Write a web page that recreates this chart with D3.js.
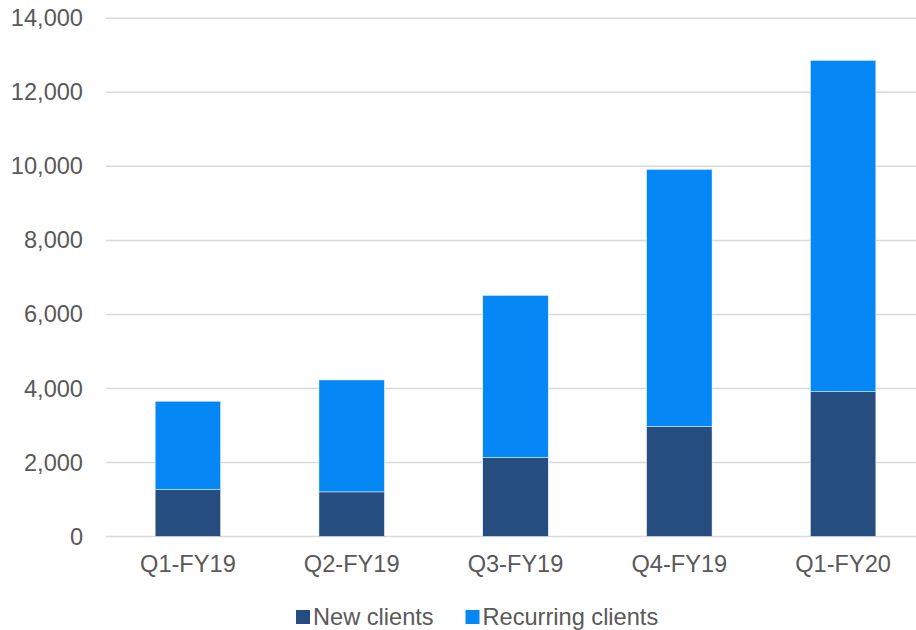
<!DOCTYPE html>
<html>
<head>
<meta charset="utf-8">
<script src="https://cdn.jsdelivr.net/npm/d3@7"></script>
<style>
  body { margin: 0; background: #fff; }
  svg text { font-family: "Liberation Sans", Arial, sans-serif; fill: #595959; }
</style>
</head>
<body>
<script>
// Chart data
const quarters = ["Q1-FY19", "Q2-FY19", "Q3-FY19", "Q4-FY19", "Q1-FY20"];
const newClients = [1265, 1205, 2130, 2965, 3912];
const recurringClients = [2390, 3025, 4385, 6955, 8953];
const seriesNames = ["New clients", "Recurring clients"];
const seriesColors = ["#254D80", "#0588F5"];
const yTicks = [0, 2000, 4000, 6000, 8000, 10000, 12000, 14000];

const w = 916, h = 630;
const margin = { left: 106, right: -9, top: 18.3, bottom: 93.5 };
const fontSize = "23.6px";

const rows = quarters.map((q, i) => ({ quarter: q, "New clients": newClients[i], "Recurring clients": recurringClients[i] }));
const stacked = d3.stack().keys(seriesNames)(rows);

const xScale = d3.scaleBand()
  .domain(quarters)
  .range([margin.left, w - margin.right])
  .paddingInner(0.6)
  .paddingOuter(0.3);

const yScale = d3.scaleLinear()
  .domain([0, 14000])
  .range([h - margin.bottom, margin.top]);

const svg = d3.select("body").append("svg")
  .attr("width", w)
  .attr("height", h);

// gridlines
svg.append("g")
  .selectAll("line")
  .data(yTicks)
  .enter()
  .append("line")
  .attr("x1", margin.left)
  .attr("x2", w)
  .attr("y1", d => yScale(d))
  .attr("y2", d => yScale(d))
  .attr("stroke", "#d9d9d9")
  .attr("stroke-width", 1.5);

// y axis labels
const yAxis = svg.append("g")
  .attr("transform", `translate(${margin.left - 23}, 0)`)
  .call(d3.axisLeft(yScale).tickValues(yTicks).tickFormat(d3.format(",")).tickSize(0).tickPadding(0));
yAxis.select(".domain").remove();
yAxis.selectAll("text").style("font-size", fontSize).attr("fill", "#595959");

// stacked bars
svg.append("g")
  .selectAll("g")
  .data(stacked)
  .enter()
  .append("g")
  .attr("fill", (d, i) => seriesColors[i])
  .selectAll("rect")
  .data(d => d)
  .enter()
  .append("rect")
  .attr("x", d => xScale(d.data.quarter))
  .attr("y", d => yScale(d[1]))
  .attr("width", xScale.bandwidth())
  .attr("height", d => yScale(d[0]) - yScale(d[1]))
  .attr("stroke", "#ffffff")
  .attr("stroke-width", 0.5);

// x axis labels
const xAxis = svg.append("g")
  .attr("transform", `translate(0, ${yScale(0)})`)
  .call(d3.axisBottom(xScale).tickSize(0).tickPadding(19));
xAxis.select(".domain").remove();
xAxis.selectAll("text").style("font-size", fontSize).attr("fill", "#595959");

// legend
const legendX = [296, 465.5];
const legend = svg.append("g").attr("transform", "translate(0, 617)");
seriesNames.forEach((name, i) => {
  legend.append("rect")
    .attr("x", legendX[i])
    .attr("y", -7)
    .attr("width", 14)
    .attr("height", 14)
    .attr("fill", seriesColors[i]);
  legend.append("text")
    .attr("x", legendX[i] + 17)
    .attr("y", 7.5)
    .style("font-size", fontSize)
    .text(name);
});
</script>
</body>
</html>
